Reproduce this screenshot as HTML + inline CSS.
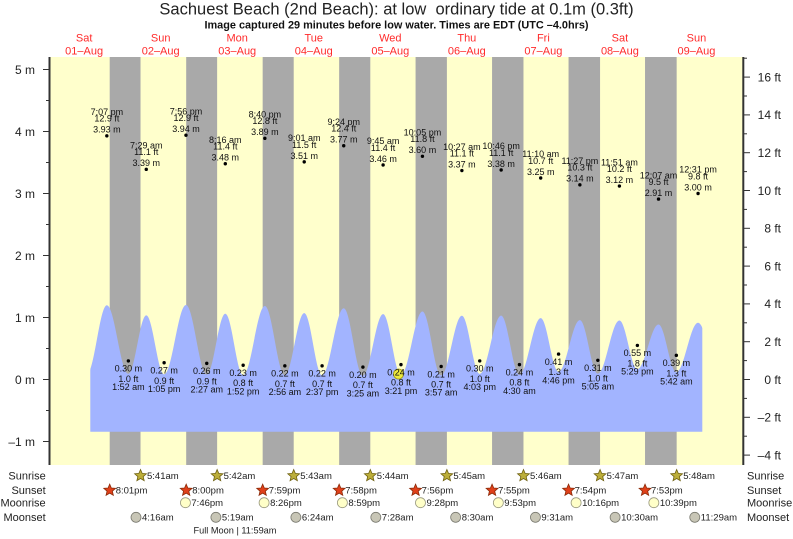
<!DOCTYPE html>
<html><head><meta charset="utf-8"><style>
html,body{margin:0;padding:0;background:#fff;}
svg{display:block;font-family:"Liberation Sans",Arial,sans-serif;}
</style></head><body>
<svg width="793" height="539" viewBox="0 0 793 539" xmlns="http://www.w3.org/2000/svg">
<defs>
<clipPath id="cp"><rect x="90.3" y="57" width="612" height="408"/></clipPath>
<path id="star" d="M0,-6.2 L1.65,-2.27 L5.9,-1.92 L2.66,0.87 L3.64,5.02 L0,2.8 L-3.64,5.02 L-2.66,0.87 L-5.9,-1.92 L-1.65,-2.27 Z"/>
</defs>
<rect x="0" y="0" width="793" height="539" fill="#fff"/>
<rect x="49.5" y="57" width="693.8" height="408" fill="#ffffcc"/>
<g fill="#a9a9a9">
<rect x="109.70" y="57" width="30.83" height="408"/>
<rect x="186.19" y="57" width="30.93" height="408"/>
<rect x="262.67" y="57" width="31.04" height="408"/>
<rect x="339.15" y="57" width="31.15" height="408"/>
<rect x="415.58" y="57" width="31.31" height="408"/>
<rect x="492.07" y="57" width="31.41" height="408"/>
<rect x="568.55" y="57" width="31.51" height="408"/>
<rect x="645.03" y="57" width="31.63" height="408"/>
</g>
<path clip-path="url(#cp)" fill="#a2b4ff" d="M87.01,373.83
C94.22,373.83 99.62,305.22 106.83,305.22
C114.67,305.22 120.52,373.83 128.36,373.83
C134.88,373.83 139.75,315.43 146.27,315.43
C152.77,315.43 157.63,374.40 164.13,374.40
C172.08,374.40 178.02,305.03 185.97,305.03
C193.54,305.03 199.19,374.59 206.76,374.59
C213.51,374.59 218.55,313.73 225.30,313.73
C231.80,313.73 236.66,375.15 243.16,375.15
C251.06,375.15 256.95,305.98 264.85,305.98
C272.12,305.98 277.56,375.34 284.83,375.34
C291.89,375.34 297.17,313.16 304.23,313.16
C310.73,313.16 315.59,375.34 322.09,375.34
C329.96,375.34 335.85,308.25 343.72,308.25
C350.71,308.25 355.92,375.72 362.91,375.72
C370.26,375.72 375.76,314.11 383.11,314.11
C389.61,314.11 394.47,374.96 400.97,374.96
C408.79,374.96 414.62,311.46 422.44,311.46
C429.25,311.46 434.34,375.53 441.15,375.53
C448.70,375.53 454.33,315.81 461.88,315.81
C468.38,315.81 473.23,373.83 479.73,373.83
C487.53,373.83 493.35,315.62 501.15,315.62
C507.81,315.62 512.78,374.96 519.44,374.96
C527.18,374.96 532.96,318.08 540.70,318.08
C547.20,318.08 552.06,371.75 558.56,371.75
C566.32,371.75 572.11,320.15 579.87,320.15
C586.41,320.15 591.29,373.64 597.83,373.64
C605.69,373.64 611.55,320.53 619.41,320.53
C625.95,320.53 630.84,369.11 637.38,369.11
C645.08,369.11 650.83,324.50 658.53,324.50
C665.01,324.50 669.86,372.13 676.34,372.13
C684.25,372.13 690.16,322.80 698.07,322.80
C705.40,322.80 710.87,370.05 718.2,370.05
L718.2,431.7 L87,431.7 Z"/>
<circle cx="398.5" cy="374" r="5" fill="#eeea3c" stroke="#a09a10" stroke-width="0.8"/>
<g stroke="#333" fill="none">
<line x1="49.5" y1="57" x2="49.5" y2="465" stroke-width="2"/>
<line x1="743.3" y1="57" x2="743.3" y2="465" stroke-width="2"/>
<g stroke-width="1">
<line x1="43" y1="69.5" x2="49" y2="69.5"/><line x1="43" y1="131.5" x2="49" y2="131.5"/><line x1="43" y1="193.5" x2="49" y2="193.5"/><line x1="43" y1="255.5" x2="49" y2="255.5"/><line x1="43" y1="317.5" x2="49" y2="317.5"/><line x1="43" y1="379.5" x2="49" y2="379.5"/><line x1="43" y1="441.5" x2="49" y2="441.5"/>
<line x1="46" y1="100.5" x2="49" y2="100.5"/><line x1="46" y1="162.5" x2="49" y2="162.5"/><line x1="46" y1="224.5" x2="49" y2="224.5"/><line x1="46" y1="286.5" x2="49" y2="286.5"/><line x1="46" y1="348.5" x2="49" y2="348.5"/><line x1="46" y1="410.5" x2="49" y2="410.5"/>
<line x1="744" y1="77.1" x2="750" y2="77.1"/><line x1="744" y1="114.9" x2="750" y2="114.9"/><line x1="744" y1="152.7" x2="750" y2="152.7"/><line x1="744" y1="190.5" x2="750" y2="190.5"/><line x1="744" y1="228.3" x2="750" y2="228.3"/><line x1="744" y1="266.1" x2="750" y2="266.1"/><line x1="744" y1="303.9" x2="750" y2="303.9"/><line x1="744" y1="341.7" x2="750" y2="341.7"/><line x1="744" y1="379.5" x2="750" y2="379.5"/><line x1="744" y1="417.3" x2="750" y2="417.3"/><line x1="744" y1="455.1" x2="750" y2="455.1"/>
<line x1="744" y1="58.2" x2="747" y2="58.2"/><line x1="744" y1="96" x2="747" y2="96"/><line x1="744" y1="133.8" x2="747" y2="133.8"/><line x1="744" y1="171.6" x2="747" y2="171.6"/><line x1="744" y1="209.4" x2="747" y2="209.4"/><line x1="744" y1="247.2" x2="747" y2="247.2"/><line x1="744" y1="285" x2="747" y2="285"/><line x1="744" y1="322.8" x2="747" y2="322.8"/><line x1="744" y1="360.6" x2="747" y2="360.6"/><line x1="744" y1="398.4" x2="747" y2="398.4"/><line x1="744" y1="436.2" x2="747" y2="436.2"/>
</g>
</g>
<g font-size="12" fill="#222" text-anchor="end">
<text x="35" y="73.8">5 m</text><text x="35" y="135.8">4 m</text><text x="35" y="197.8">3 m</text><text x="35" y="259.8">2 m</text><text x="35" y="321.8">1 m</text><text x="35" y="383.8">0 m</text><text x="35" y="445.8">–1 m</text>
<text x="781" y="81.4">16 ft</text><text x="781" y="119.2">14 ft</text><text x="781" y="157">12 ft</text><text x="781" y="194.8">10 ft</text><text x="781" y="232.6">8 ft</text><text x="781" y="270.4">6 ft</text><text x="781" y="308.2">4 ft</text><text x="781" y="346">2 ft</text><text x="781" y="383.8">0 ft</text><text x="781" y="421.6">–2 ft</text><text x="781" y="459.4">–4 ft</text>
</g>
<text x="396.5" y="14.5" font-size="16.5" fill="#222" text-anchor="middle">Sachuest Beach (2nd Beach): at low&#160; ordinary tide at 0.1m (0.3ft)</text>
<text x="396.5" y="28.5" font-size="10.9" font-weight="bold" fill="#111" text-anchor="middle">Image captured 29 minutes before low water. Times are EDT (UTC –4.0hrs)</text>
<g font-size="11" fill="#ff2a2a" text-anchor="middle">
<text x="84.14" y="41.7">Sat</text><text x="84.14" y="54.5">01–Aug</text>
<text x="160.68" y="41.7">Sun</text><text x="160.68" y="54.5">02–Aug</text>
<text x="237.22" y="41.7">Mon</text><text x="237.22" y="54.5">03–Aug</text>
<text x="313.76" y="41.7">Tue</text><text x="313.76" y="54.5">04–Aug</text>
<text x="390.30" y="41.7">Wed</text><text x="390.30" y="54.5">05–Aug</text>
<text x="466.84" y="41.7">Thu</text><text x="466.84" y="54.5">06–Aug</text>
<text x="543.38" y="41.7">Fri</text><text x="543.38" y="54.5">07–Aug</text>
<text x="619.92" y="41.7">Sat</text><text x="619.92" y="54.5">08–Aug</text>
<text x="696.46" y="41.7">Sun</text><text x="696.46" y="54.5">09–Aug</text>
</g>
<g fill="#000">
<circle cx="106.83" cy="135.84" r="1.7"/><circle cx="146.27" cy="169.32" r="1.7"/><circle cx="185.97" cy="135.22" r="1.7"/><circle cx="225.30" cy="163.74" r="1.7"/><circle cx="264.85" cy="138.32" r="1.7"/><circle cx="304.23" cy="161.88" r="1.7"/><circle cx="343.72" cy="145.76" r="1.7"/><circle cx="383.11" cy="164.98" r="1.7"/><circle cx="422.44" cy="156.30" r="1.7"/><circle cx="461.88" cy="170.56" r="1.7"/><circle cx="501.15" cy="169.94" r="1.7"/><circle cx="540.70" cy="178.00" r="1.7"/><circle cx="579.87" cy="184.82" r="1.7"/><circle cx="619.41" cy="186.06" r="1.7"/><circle cx="658.53" cy="199.08" r="1.7"/><circle cx="698.07" cy="193.50" r="1.7"/>
<circle cx="128.36" cy="360.9" r="1.7"/><circle cx="164.13" cy="362.76" r="1.7"/><circle cx="206.76" cy="363.38" r="1.7"/><circle cx="243.16" cy="365.24" r="1.7"/><circle cx="284.83" cy="365.86" r="1.7"/><circle cx="322.09" cy="365.86" r="1.7"/><circle cx="362.91" cy="367.1" r="1.7"/><circle cx="400.97" cy="364.62" r="1.7"/><circle cx="441.15" cy="366.48" r="1.7"/><circle cx="479.73" cy="360.9" r="1.7"/><circle cx="519.44" cy="364.62" r="1.7"/><circle cx="558.56" cy="354.08" r="1.7"/><circle cx="597.83" cy="360.28" r="1.7"/><circle cx="637.38" cy="345.4" r="1.7"/><circle cx="676.34" cy="355.32" r="1.7"/>
</g>
<g font-size="9" fill="#111" text-anchor="middle">
<text x="106.83" y="115.0">7:07 pm</text><text x="106.83" y="121.7">12.9 ft</text><text x="106.83" y="132.7">3.93 m</text>
<text x="146.27" y="148.5">7:29 am</text><text x="146.27" y="155.2">11.1 ft</text><text x="146.27" y="166.2">3.39 m</text>
<text x="185.97" y="114.4">7:56 pm</text><text x="185.97" y="121.1">12.9 ft</text><text x="185.97" y="132.1">3.94 m</text>
<text x="225.30" y="142.9">8:16 am</text><text x="225.30" y="149.6">11.4 ft</text><text x="225.30" y="160.6">3.48 m</text>
<text x="264.85" y="117.5">8:40 pm</text><text x="264.85" y="124.2">12.8 ft</text><text x="264.85" y="135.2">3.89 m</text>
<text x="304.23" y="141.1">9:01 am</text><text x="304.23" y="147.8">11.5 ft</text><text x="304.23" y="158.8">3.51 m</text>
<text x="343.72" y="125.0">9:24 pm</text><text x="343.72" y="131.7">12.4 ft</text><text x="343.72" y="142.7">3.77 m</text>
<text x="383.11" y="144.2">9:45 am</text><text x="383.11" y="150.9">11.4 ft</text><text x="383.11" y="161.9">3.46 m</text>
<text x="422.44" y="135.5">10:05 pm</text><text x="422.44" y="142.2">11.8 ft</text><text x="422.44" y="153.2">3.60 m</text>
<text x="461.88" y="149.8">10:27 am</text><text x="461.88" y="156.5">11.1 ft</text><text x="461.88" y="167.5">3.37 m</text>
<text x="501.15" y="149.1">10:46 pm</text><text x="501.15" y="155.8">11.1 ft</text><text x="501.15" y="166.8">3.38 m</text>
<text x="540.70" y="157.2">11:10 am</text><text x="540.70" y="163.9">10.7 ft</text><text x="540.70" y="174.9">3.25 m</text>
<text x="579.87" y="164.0">11:27 pm</text><text x="579.87" y="170.7">10.3 ft</text><text x="579.87" y="181.7">3.14 m</text>
<text x="619.41" y="165.3">11:51 am</text><text x="619.41" y="172.0">10.2 ft</text><text x="619.41" y="183.0">3.12 m</text>
<text x="658.53" y="178.3">12:07 am</text><text x="658.53" y="185.0">9.5 ft</text><text x="658.53" y="196.0">2.91 m</text>
<text x="698.07" y="172.7">12:31 pm</text><text x="698.07" y="179.4">9.8 ft</text><text x="698.07" y="190.4">3.00 m</text>
</g>
<g font-size="9" fill="#111" text-anchor="middle">
<text x="128.36" y="371.7">0.30 m</text><text x="128.36" y="381.9">1.0 ft</text><text x="128.36" y="390.1">1:52 am</text>
<text x="164.13" y="373.6">0.27 m</text><text x="164.13" y="383.8">0.9 ft</text><text x="164.13" y="392.0">1:05 pm</text>
<text x="206.76" y="374.2">0.26 m</text><text x="206.76" y="384.4">0.9 ft</text><text x="206.76" y="392.6">2:27 am</text>
<text x="243.16" y="376.0">0.23 m</text><text x="243.16" y="386.2">0.8 ft</text><text x="243.16" y="394.4">1:52 pm</text>
<text x="284.83" y="376.7">0.22 m</text><text x="284.83" y="386.9">0.7 ft</text><text x="284.83" y="395.1">2:56 am</text>
<text x="322.09" y="376.7">0.22 m</text><text x="322.09" y="386.9">0.7 ft</text><text x="322.09" y="395.1">2:37 pm</text>
<text x="362.91" y="377.9">0.20 m</text><text x="362.91" y="388.1">0.7 ft</text><text x="362.91" y="396.3">3:25 am</text>
<text x="400.97" y="375.4">0.24 m</text><text x="400.97" y="385.6">0.8 ft</text><text x="400.97" y="393.8">3:21 pm</text>
<text x="441.15" y="377.3">0.21 m</text><text x="441.15" y="387.5">0.7 ft</text><text x="441.15" y="395.7">3:57 am</text>
<text x="479.73" y="371.7">0.30 m</text><text x="479.73" y="381.9">1.0 ft</text><text x="479.73" y="390.1">4:03 pm</text>
<text x="519.44" y="375.4">0.24 m</text><text x="519.44" y="385.6">0.8 ft</text><text x="519.44" y="393.8">4:30 am</text>
<text x="558.56" y="364.9">0.41 m</text><text x="558.56" y="375.1">1.3 ft</text><text x="558.56" y="383.3">4:46 pm</text>
<text x="597.83" y="371.1">0.31 m</text><text x="597.83" y="381.3">1.0 ft</text><text x="597.83" y="389.5">5:05 am</text>
<text x="637.38" y="356.2">0.55 m</text><text x="637.38" y="366.4">1.8 ft</text><text x="637.38" y="374.6">5:29 pm</text>
<text x="676.34" y="366.1">0.39 m</text><text x="676.34" y="376.3">1.3 ft</text><text x="676.34" y="384.5">5:42 am</text>
</g>
<g font-size="11" fill="#222">
<g text-anchor="end">
<text x="45.7" y="479.6">Sunrise</text><text x="45.7" y="494.2">Sunset</text><text x="45.7" y="506.6">Moonrise</text><text x="45.7" y="521.2">Moonset</text>
</g>
<text x="747" y="479.6">Sunrise</text><text x="747" y="494.2">Sunset</text><text x="747" y="506.6">Moonrise</text><text x="747" y="521.2">Moonset</text>
</g>
<g fill="#bcae3a" stroke="#6e6010" stroke-width="0.8">
<use href="#star" x="140.53" y="475.7"/><use href="#star" x="217.12" y="475.7"/><use href="#star" x="293.71" y="475.7"/><use href="#star" x="370.30" y="475.7"/><use href="#star" x="446.89" y="475.7"/><use href="#star" x="523.48" y="475.7"/><use href="#star" x="600.06" y="475.7"/><use href="#star" x="676.66" y="475.7"/>
</g>
<g fill="#e0401a" stroke="#8a2a08" stroke-width="0.8">
<use href="#star" x="109.70" y="490.3"/><use href="#star" x="186.19" y="490.3"/><use href="#star" x="262.67" y="490.3"/><use href="#star" x="339.15" y="490.3"/><use href="#star" x="415.58" y="490.3"/><use href="#star" x="492.07" y="490.3"/><use href="#star" x="568.55" y="490.3"/><use href="#star" x="645.03" y="490.3"/>
</g>
<g fill="#ffffc8" stroke="#9a9a80" stroke-width="0.8">
<circle cx="185.44" cy="502.7" r="5"/><circle cx="264.10" cy="502.7" r="5"/><circle cx="342.39" cy="502.7" r="5"/><circle cx="420.47" cy="502.7" r="5"/><circle cx="498.34" cy="502.7" r="5"/><circle cx="576.10" cy="502.7" r="5"/><circle cx="653.85" cy="502.7" r="5"/>
</g>
<g fill="#c8c6b6" stroke="#7a7a70" stroke-width="0.8">
<circle cx="136.01" cy="517.3" r="5"/><circle cx="215.90" cy="517.3" r="5"/><circle cx="295.89" cy="517.3" r="5"/><circle cx="375.83" cy="517.3" r="5"/><circle cx="455.66" cy="517.3" r="5"/><circle cx="535.44" cy="517.3" r="5"/><circle cx="615.11" cy="517.3" r="5"/><circle cx="694.78" cy="517.3" r="5"/>
</g>
<g font-size="9.5" fill="#222">
<text x="147" y="479">5:41am</text><text x="223.6" y="479">5:42am</text><text x="300.2" y="479">5:43am</text><text x="376.8" y="479">5:44am</text><text x="453.4" y="479">5:45am</text><text x="530" y="479">5:46am</text><text x="606.6" y="479">5:47am</text><text x="683.2" y="479">5:48am</text>
<text x="115.7" y="493.6">8:01pm</text><text x="192.2" y="493.6">8:00pm</text><text x="268.7" y="493.6">7:59pm</text><text x="345.2" y="493.6">7:58pm</text><text x="421.6" y="493.6">7:56pm</text><text x="498.1" y="493.6">7:55pm</text><text x="574.6" y="493.6">7:54pm</text><text x="651" y="493.6">7:53pm</text>
<text x="191.4" y="506">7:46pm</text><text x="270.1" y="506">8:26pm</text><text x="348.4" y="506">8:59pm</text><text x="426.5" y="506">9:28pm</text><text x="504.3" y="506">9:53pm</text><text x="582.1" y="506">10:16pm</text><text x="659.9" y="506">10:39pm</text>
<text x="142" y="520.6">4:16am</text><text x="221.9" y="520.6">5:19am</text><text x="301.9" y="520.6">6:24am</text><text x="381.8" y="520.6">7:28am</text><text x="461.7" y="520.6">8:30am</text><text x="541.4" y="520.6">9:31am</text><text x="621.1" y="520.6">10:30am</text><text x="700.8" y="520.6">11:29am</text>
<text x="235" y="533.3" text-anchor="middle" font-size="9.2">Full Moon | 11:59am</text>
</g>
</svg>
</body></html>
